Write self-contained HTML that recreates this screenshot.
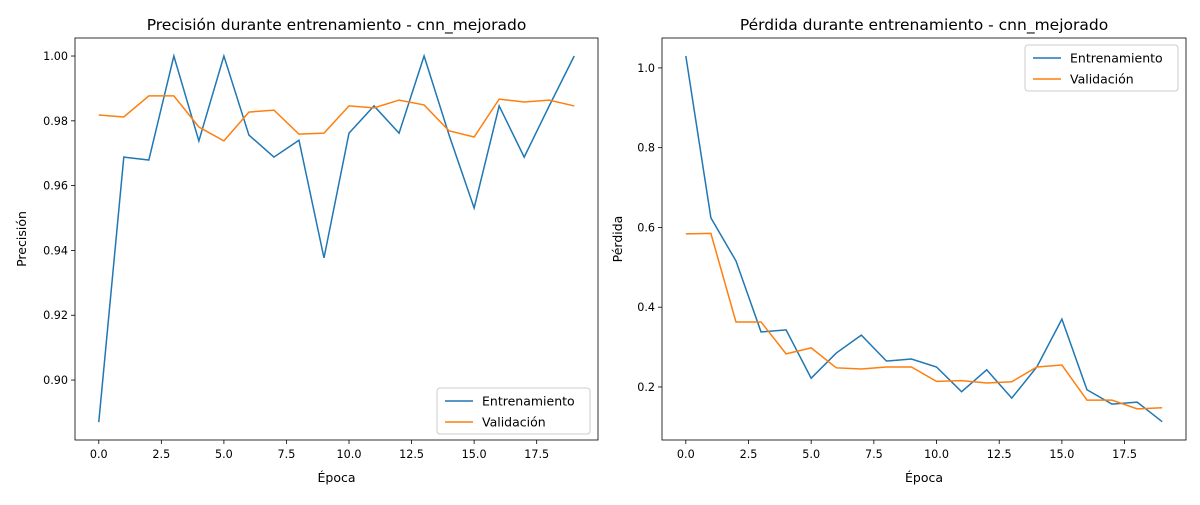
<!DOCTYPE html>
<html><head><meta charset="utf-8">
<style>
body{margin:0;background:#fff;font-family:"Liberation Sans","DejaVu Sans",sans-serif;}
svg text{font-family:"DejaVu Sans","Liberation Sans",sans-serif;}
</style></head>
<body>
<svg id="c" width="1200" height="500" xmlns="http://www.w3.org/2000/svg"></svg>
<script>
const epochs=[0,1,2,3,4,5,6,7,8,9,10,11,12,13,14,15,16,17,18,19];
const accTrain=[0.887,0.9688,0.9679,1.0,0.9738,1.0,0.9756,0.9688,0.974,0.9377,0.9762,0.9846,0.9762,1.0,0.9756,0.9531,0.9846,0.9688,0.9846,1.0];
const accVal=[0.9818,0.9812,0.9877,0.9877,0.9781,0.9738,0.9827,0.9833,0.9759,0.9762,0.9846,0.984,0.9864,0.9849,0.9769,0.975,0.9867,0.9858,0.9864,0.9846];
const lossTrain=[1.03,0.624,0.516,0.338,0.343,0.222,0.285,0.33,0.265,0.27,0.25,0.188,0.243,0.172,0.25,0.37,0.193,0.157,0.162,0.113];
const lossVal=[0.584,0.585,0.363,0.363,0.283,0.298,0.248,0.245,0.25,0.25,0.214,0.216,0.21,0.213,0.25,0.255,0.167,0.167,0.145,0.148];
const xTicks=[0,2.5,5,7.5,10,12.5,15,17.5];
const accTicks=[0.90,0.92,0.94,0.96,0.98,1.00];
const lossTicks=[0.2,0.4,0.6,0.8,1.0];
const svg=document.getElementById('c');
const NS='http://www.w3.org/2000/svg';
function el(tag,attrs,parent){const e=document.createElementNS(NS,tag);for(const k in attrs)e.setAttribute(k,attrs[k]);(parent||svg).appendChild(e);return e;}
function panel(o){
 const g=el('g',{});
 
 
 const sx=v=>o.x0+(v-o.xmin)/(o.xmax-o.xmin)*(o.x1-o.x0);
 const sy=v=>o.y1-(v-o.ymin)/(o.ymax-o.ymin)*(o.y1-o.y0);
 xTicks.forEach(t=>{const x=sx(t);el('line',{x1:x,x2:x,y1:o.y1,y2:o.y1+4,stroke:'#000','stroke-width':0.8},g);
  const tx=el('text',{x:x,y:o.y1+18,'font-size':11.2,'text-anchor':'middle'},g);tx.textContent=t.toFixed(1);
  });
 o.yTicks.forEach(t=>{const y=sy(t);el('line',{x1:o.x0-4,x2:o.x0,y1:y,y2:y,stroke:'#000','stroke-width':0.8},g);
  const tx=el('text',{x:o.x0-7,y:y+4,'font-size':11.2,'text-anchor':'end'},g);tx.textContent=t.toFixed(o.dec);
  });
 const series=[[o.train,'#1f77b4','train-line'],[o.val,'#ff7f0e','validation-line']];
 series.forEach(s=>{const p=el('polyline',{points:epochs.map((e,i)=>sx(e)+','+sy(s[0][i])).join(' '),fill:'none',stroke:s[1],'stroke-width':1.5},g);
  });
 el('rect',{x:o.x0,y:o.y0,width:o.x1-o.x0,height:o.y1-o.y0,fill:'none',stroke:'#000','stroke-width':0.8},g);
 const t=el('text',{x:(o.x0+o.x1)/2,y:o.y0-8,'font-size':15.5,'text-anchor':'middle'},g);t.textContent=o.title;
 
 const xl=el('text',{x:(o.x0+o.x1)/2,y:482,'font-size':12.5,'text-anchor':'middle'},g);xl.textContent='Época';
 
 const yl=el('text',{x:0,y:0,'font-size':12.5,'text-anchor':'middle',transform:`translate(${o.ylx},${(o.y0+o.y1)/2}) rotate(-90)`},g);yl.textContent=o.ylabel;
 
 const lg=el('g',{},g);
 
 el('rect',{x:o.lx,y:o.ly,width:153,height:46,rx:3,fill:'#fff','fill-opacity':0.8,stroke:'#ccc'},lg);
 [['Entrenamiento','#1f77b4'],['Validación','#ff7f0e']].forEach((e,i)=>{const y=o.ly+13+i*21;
  el('line',{x1:o.lx+8,x2:o.lx+36,y1:y,y2:y,stroke:e[1],'stroke-width':1.5},lg);
  const tt=el('text',{x:o.lx+45,y:y+4.5,'font-size':12.5},lg);tt.textContent=e[0];
  });
}
panel({name:'accuracy-panel',x0:75,x1:598,y0:38,y1:440,xmin:-0.95,xmax:19.95,ymin:0.8815,ymax:1.00556,yTicks:accTicks,dec:2,
 train:accTrain,val:accVal,title:'Precisión durante entrenamiento - cnn_mejorado',ylabel:'Precisión',ylx:26,lx:437,ly:388});
panel({name:'loss-panel',x0:662,x1:1186,y0:38,y1:440,xmin:-0.95,xmax:19.95,ymin:0.067,ymax:1.075,yTicks:lossTicks,dec:1,
 train:lossTrain,val:lossVal,title:'Pérdida durante entrenamiento - cnn_mejorado',ylabel:'Pérdida',ylx:622,lx:1025,ly:45});
</script>
</body></html>
